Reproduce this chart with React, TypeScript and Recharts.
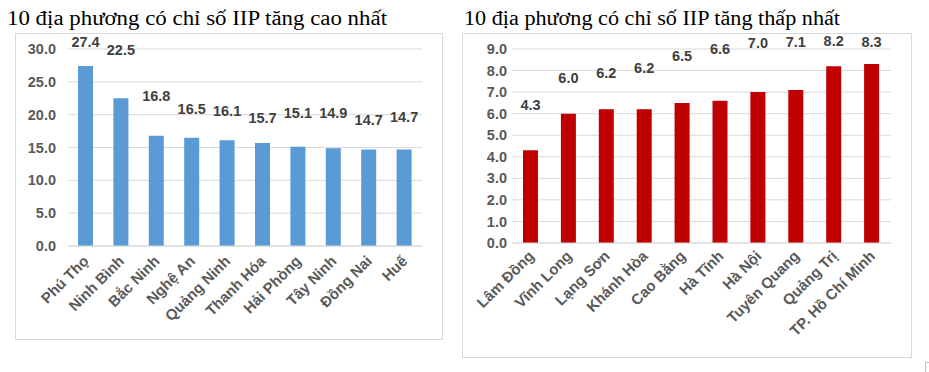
import React from 'react';
import { BarChart, Bar, XAxis, YAxis, CartesianGrid } from 'recharts';

const highCategories = ['Phú Thọ', 'Ninh Bình', 'Bắc Ninh', 'Nghệ An', 'Quảng Ninh', 'Thanh Hóa', 'Hải Phòng', 'Tây Ninh', 'Đồng Nai', 'Huế'];
const highValues = [27.4, 22.5, 16.8, 16.5, 16.1, 15.7, 15.1, 14.9, 14.7, 14.7];
const highTicks = [0, 5, 10, 15, 20, 25, 30];

const lowCategories = ['Lâm Đồng', 'Vĩnh Long', 'Lạng Sơn', 'Khánh Hòa', 'Cao Bằng', 'Hà Tĩnh', 'Hà Nội', 'Tuyên Quang', 'Quảng Trị', 'TP. Hồ Chí Minh'];
const lowValues = [4.3, 6.0, 6.2, 6.2, 6.5, 6.6, 7.0, 7.1, 8.2, 8.3];
const lowTicks = [0, 1, 2, 3, 4, 5, 6, 7, 8, 9];

const titleHigh = '10 địa phương có chỉ số IIP tăng cao nhất';
const titleLow = '10 địa phương có chỉ số IIP tăng thấp nhất';

// vertical lift (px) of each value label above its bar top, as placed in the original
const highLabelLift = [24, 48, 40, 29, 29, 25, 34, 35, 29, 32];
const lowLabelLift = [45, 36, 36, 41, 47, 52, 49, 48, 25, 22];

const highData = highCategories.map((name, i) => ({ name, value: highValues[i] }));
const lowData = lowCategories.map((name, i) => ({ name, value: lowValues[i] }));

const FONT = '"Liberation Sans", Arial, sans-serif';
const TICK_COLOR = '#595959';
const LABEL_COLOR = '#404040';
const GRID = '#d9d9d9';

const makeXTick = (dx: number, dy: number) => (props: any) => {
  const { x, y, payload } = props;
  const ax = x + dx;
  const ay = y + dy;
  return (
    <text
      x={ax}
      y={ay}
      transform={`rotate(-45 ${ax} ${ay})`}
      textAnchor="end"
      fill={TICK_COLOR}
      fontSize={15}
      fontWeight="bold"
      fontFamily={FONT}
    >
      {payload.value}
    </text>
  );
};

const makeLabel = (lift: number[]) => (p: any) => {
  const { x, y, width, value, index } = p;
  return (
    <text
      x={x + width / 2}
      y={y - lift[index] + 5}
      textAnchor="middle"
      fill={LABEL_COLOR}
      fontSize={14.5}
      fontWeight="bold"
      fontFamily={FONT}
    >
      {Number(value).toFixed(1)}
    </text>
  );
};

const yTickStyle = { fill: TICK_COLOR, fontSize: 14.5, fontWeight: 'bold' as const, fontFamily: FONT };

export default function App() {
  return (
    <div style={{ position: 'absolute', left: 0, top: 0, width: 929, height: 372, background: '#fff', overflow: 'hidden' }}>
      <svg width={929} height={40} style={{ position: 'absolute', left: 0, top: 0 }}>
        <text x={7} y={25} fontFamily='"Liberation Serif", "Times New Roman", serif' fontSize={20} fill="#000" textLength={380} lengthAdjust="spacingAndGlyphs">
          {titleHigh}
        </text>
        <text x={464} y={25} fontFamily='"Liberation Serif", "Times New Roman", serif' fontSize={20} fill="#000" textLength={376} lengthAdjust="spacingAndGlyphs">
          {titleLow}
        </text>
      </svg>

      <div style={{ position: 'absolute', left: 15, top: 33, width: 426, height: 305, border: `1px solid ${GRID}` }}>
        <BarChart width={426} height={305} data={highData} margin={{ top: 15, right: 20, left: 0, bottom: 0 }} style={{ overflow: 'visible' }}>
          <CartesianGrid vertical={false} stroke={GRID} />
          <XAxis
            dataKey="name"
            interval={0}
            height={93}
            tickLine={false}
            tickSize={0}
            tickMargin={0}
            axisLine={{ stroke: GRID }}
            tick={makeXTick(4, 16)}
          />
          <YAxis
            width={52}
            domain={[0, 30]}
            ticks={highTicks}
            interval={0}
            axisLine={false}
            tickLine={false}
            tickSize={0}
            tickMargin={12}
            tick={yTickStyle}
            tickFormatter={(v: number) => v.toFixed(1)}
          />
          <Bar dataKey="value" fill="#5b9bd5" barSize={15} isAnimationActive={false} label={makeLabel(highLabelLift)} />
        </BarChart>
      </div>

      <div style={{ position: 'absolute', left: 462, top: 33, width: 448, height: 323, border: `1px solid ${GRID}` }}>
        <BarChart width={448} height={323} data={lowData} margin={{ top: 15, right: 20, left: 0, bottom: 0 }} style={{ overflow: 'visible' }}>
          <CartesianGrid vertical={false} stroke={GRID} />
          <XAxis
            dataKey="name"
            interval={0}
            height={114}
            tickLine={false}
            tickSize={0}
            tickMargin={0}
            axisLine={{ stroke: GRID }}
            tick={makeXTick(4, 14)}
          />
          <YAxis
            width={49}
            domain={[0, 9]}
            ticks={lowTicks}
            interval={0}
            axisLine={false}
            tickLine={false}
            tickSize={0}
            tickMargin={5}
            tick={yTickStyle}
            tickFormatter={(v: number) => v.toFixed(1)}
          />
          <Bar dataKey="value" fill="#c00000" barSize={15} isAnimationActive={false} label={makeLabel(lowLabelLift)} />
        </BarChart>
      </div>

      <div style={{ position: 'absolute', left: 925, top: 362, width: 4, height: 10, borderLeft: '1px solid #bfbfbf', borderTop: '1px solid #bfbfbf' }} />
    </div>
  );
}
